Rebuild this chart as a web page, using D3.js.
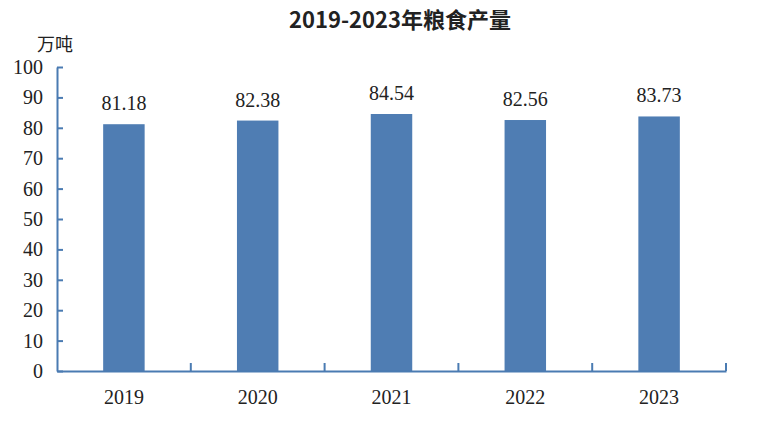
<!DOCTYPE html>
<html>
<head>
<meta charset="utf-8">
<script src="https://d3js.org/d3.v7.min.js"></script>
<style>
    body { margin: 0; background: #fff; }
    .serif { font-family: "Liberation Serif", "Times New Roman", serif; }
</style>
</head>
<body>
<div id="chart"></div>
<script>
    // chart data
    var years = ["2019", "2020", "2021", "2022", "2023"];
    var output = [81.18, 82.38, 84.54, 82.56, 83.73];
    var yTicks = [0, 10, 20, 30, 40, 50, 60, 70, 80, 90, 100];

    var W = 758, H = 422;
    var plot = { left: 57, right: 726, top: 67, bottom: 371 };
    var axisColor = "#4a7bb2", barColor = "#4f7db3", textColor = "#222";

    var svg = d3.select("#chart").append("svg")
        .attr("width", W)
        .attr("height", H);

    var x = d3.scaleBand().domain(years).range([plot.left, plot.right]).padding(0);
    var y = d3.scaleLinear().domain([0, 100]).range([plot.bottom, plot.top]);
    var barW = x.bandwidth() * 0.31;

    // title
    svg.append("text")
        .attr("x", 400)
        .attr("y", 28)
        .attr("text-anchor", "middle")
        .style("font-family", "'Noto Sans CJK SC', sans-serif")
        .style("font-size", "22px")
        .style("font-weight", "bold")
        .style("fill", textColor)
        .text("2019-2023年粮食产量");

    // unit
    svg.append("text")
        .attr("x", 55)
        .attr("y", 51)
        .attr("text-anchor", "middle")
        .style("font-family", "'Noto Sans CJK SC', sans-serif")
        .style("font-size", "18px")
        .style("fill", textColor)
        .text("万吨");

    // bars
    svg.selectAll(".bar")
        .data(output)
        .enter().append("rect")
        .attr("class", "bar")
        .attr("x", function (d, i) { return x(years[i]) + (x.bandwidth() - barW) / 2; })
        .attr("y", function (d) { return y(d); })
        .attr("width", barW)
        .attr("height", function (d) { return plot.bottom - y(d); })
        .attr("fill", barColor);

    // value labels
    svg.selectAll(".val")
        .data(output)
        .enter().append("text")
        .attr("class", "val serif")
        .attr("x", function (d, i) { return x(years[i]) + x.bandwidth() / 2; })
        .attr("y", function (d) { return y(d) - 14; })
        .attr("text-anchor", "middle")
        .style("font-size", "20px")
        .style("fill", textColor)
        .text(function (d) { return d.toFixed(2); });

    // y axis
    var yAxis = svg.append("g")
        .attr("transform", "translate(" + plot.left + ",0)")
        .call(d3.axisLeft(y).tickValues(yTicks).tickSizeInner(-6).tickSizeOuter(0).tickPadding(14));
    yAxis.select(".domain").attr("stroke", axisColor).attr("stroke-width", 2);
    yAxis.selectAll(".tick line").attr("stroke", axisColor).attr("stroke-width", 2);
    yAxis.selectAll(".tick text")
        .style("font-size", "20px")
        .style("font-family", "'Liberation Serif', serif")
        .attr("fill", textColor);

    // x axis: baseline, boundary ticks pointing up, labels
    var xAxis = svg.append("g")
        .attr("transform", "translate(0," + plot.bottom + ")")
        .call(d3.axisBottom(x).tickSize(0).tickPadding(19));
    xAxis.select(".domain").attr("stroke", axisColor).attr("stroke-width", 2);
    xAxis.selectAll(".tick text")
        .style("font-size", "20px")
        .style("font-family", "'Liberation Serif', serif")
        .attr("fill", textColor);

    var bounds = years.map(function (d) { return x(d); }).concat([plot.right]);
    xAxis.selectAll(".bound")
        .data(bounds.slice(1))
        .enter().append("line")
        .attr("class", "bound")
        .attr("x1", function (d) { return d; })
        .attr("x2", function (d) { return d; })
        .attr("y1", 0)
        .attr("y2", -8)
        .attr("stroke", axisColor)
        .attr("stroke-width", 2);
</script>
</body>
</html>
